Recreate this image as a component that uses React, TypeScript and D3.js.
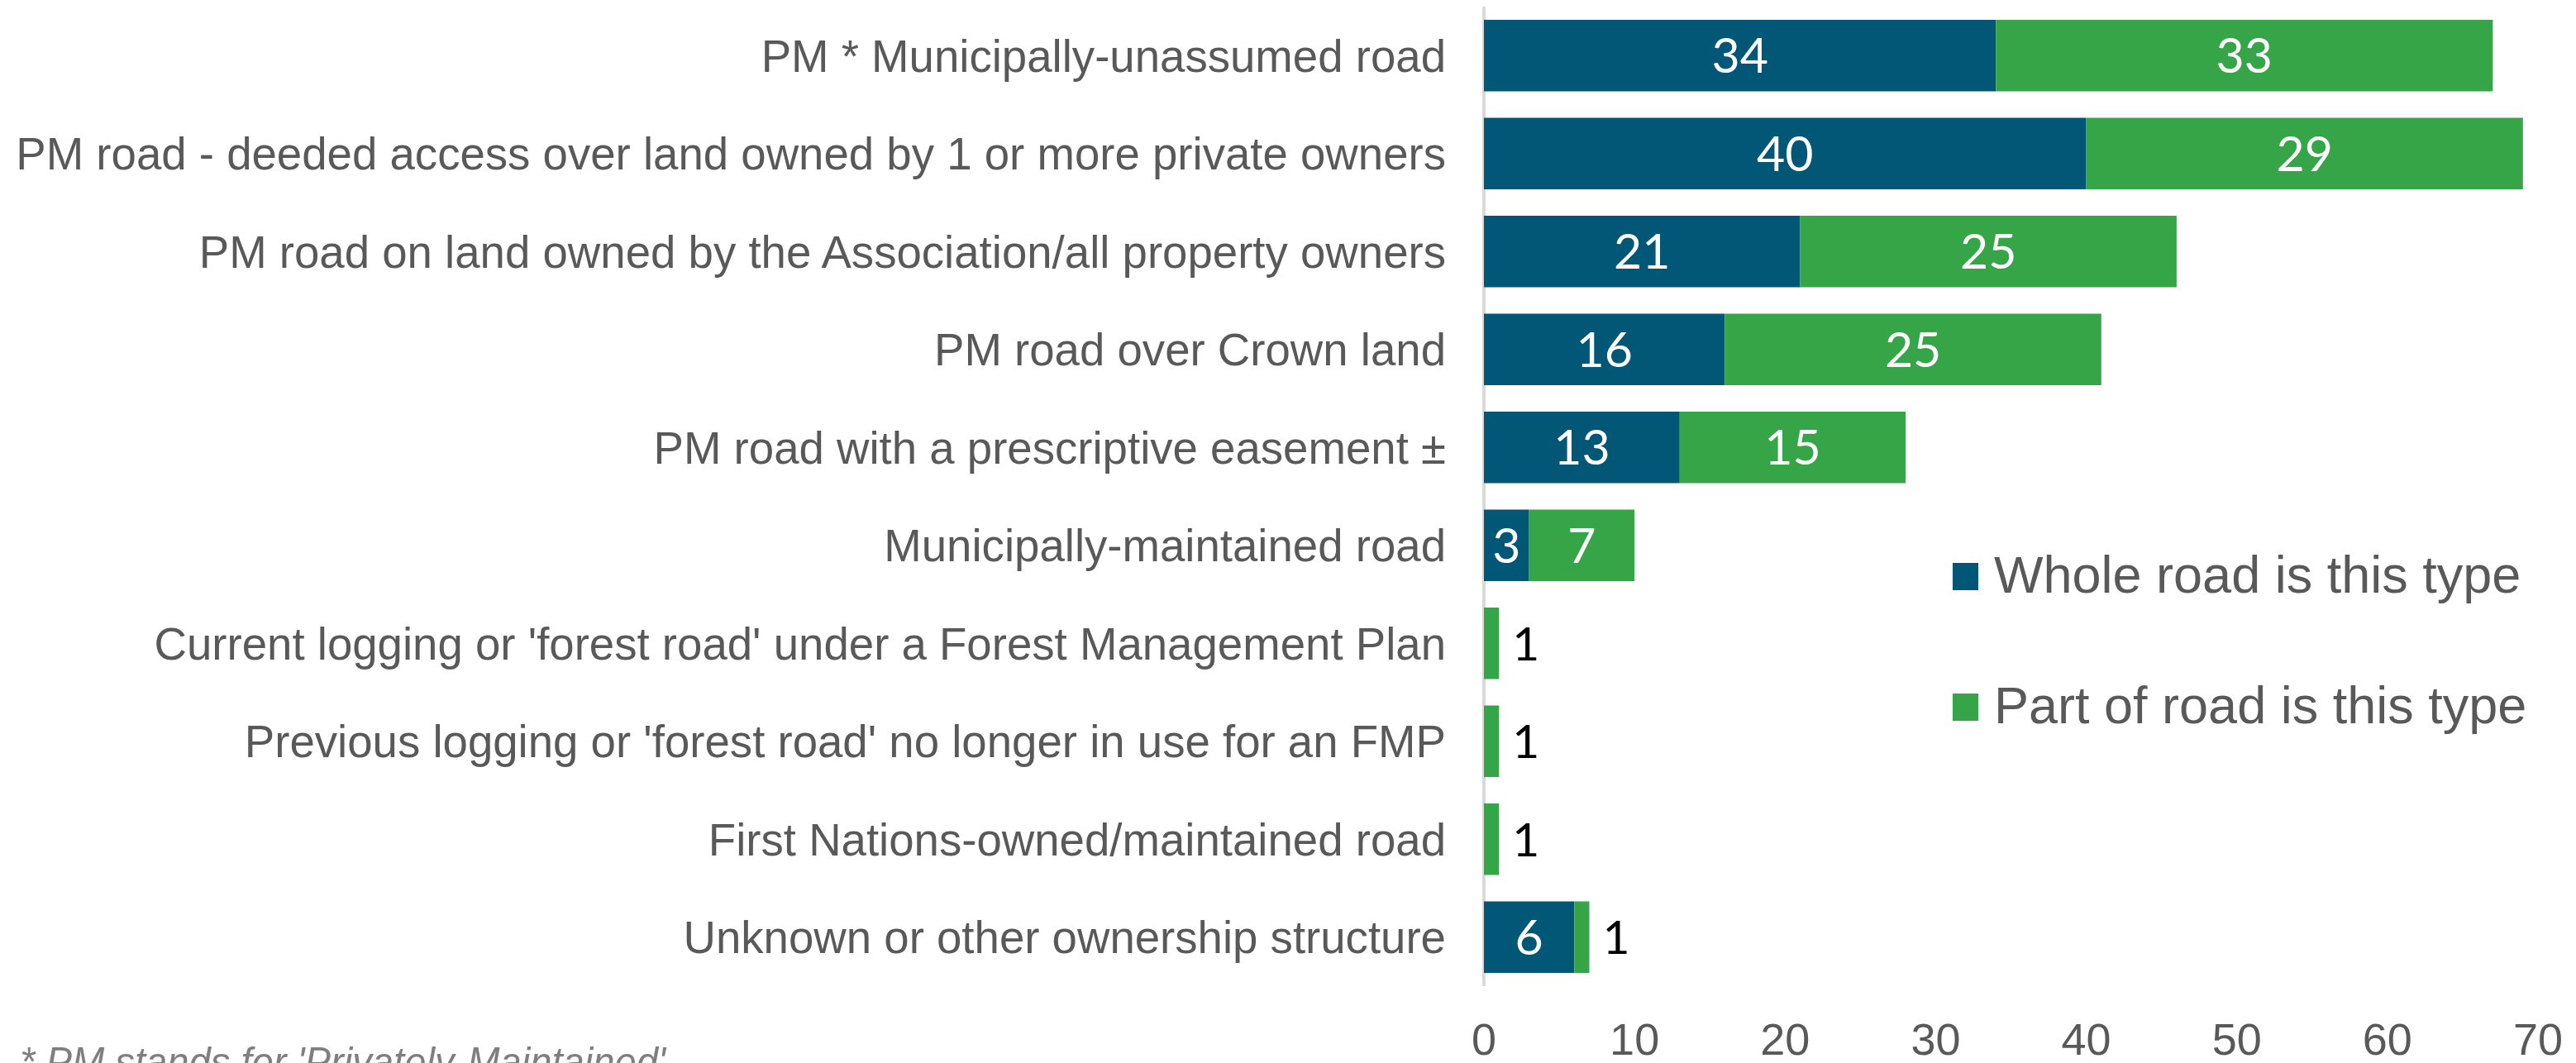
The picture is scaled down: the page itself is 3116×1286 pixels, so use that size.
import React from "react";
import * as d3 from "d3";

const categories = [
  "PM * Municipally-unassumed road",
  "PM road - deeded access over land owned by 1 or more private owners",
  "PM road on land owned by the Association/all property owners",
  "PM road over Crown land",
  "PM road with a prescriptive easement ±",
  "Municipally-maintained road",
  "Current logging or 'forest road' under a Forest Management Plan",
  "Previous logging or 'forest road' no longer in use for an FMP",
  "First Nations-owned/maintained road",
  "Unknown or other ownership structure",
];
const wholeValues = [34, 40, 21, 16, 13, 3, 0, 0, 0, 6];
const partValues = [33, 29, 25, 25, 15, 7, 1, 1, 1, 1];
const seriesNames = ["Whole road is this type", "Part of road is this type"];
const xTicks = [0, 10, 20, 30, 40, 50, 60, 70];
const footnote = "* PM stands for 'Privately-Maintained'";

const W = 3116;
const H = 1286;
const BLUE = "#025676";
const GREEN = "#35A547";
const GREY = "#595959";

export default function App() {
  const x = d3.scaleLinear().domain([0, 70]).range([1795, 3070]);
  const y = d3.scaleBand<string>().domain(categories).range([8, 1193]).paddingInner(0.27).paddingOuter(0.135);
  const bh = y.bandwidth();
  const labelFont = "'Liberation Sans', Arial, sans-serif";
  const numFont = "Lato, 'Liberation Sans', sans-serif";

  return (
    <div style={{ position: "fixed", left: 0, top: 0 }}>
      <svg width={W} height={H} style={{ display: "block", background: "#fff" }}>
        <line x1={x(0)} x2={x(0)} y1={8} y2={1193} stroke="#d9d9d9" strokeWidth={4} />
        {categories.map((c, i) => {
          const y0 = y(c)!;
          const cy = y0 + bh / 2;
          const w = wholeValues[i];
          const p = partValues[i];
          const small = p <= 1;
          return (
            <g key={c}>
              <text x={1749} y={cy} dy="0.36em" textAnchor="end" fontFamily={labelFont} fontSize={54.6} fill={GREY}>
                {c}
              </text>
              {w > 0 && <rect x={x(0)} y={y0} width={x(w) - x(0)} height={bh} fill={BLUE} />}
              {p > 0 && <rect x={x(w)} y={y0} width={x(w + p) - x(w)} height={bh} fill={GREEN} />}
              {w > 0 && (
                <text x={(x(0) + x(w)) / 2} y={cy} dy="0.36em" textAnchor="middle" fontFamily={numFont} fontSize={59} fill="#fff">
                  {w}
                </text>
              )}
              {p > 0 && !small && (
                <text x={(x(w) + x(w + p)) / 2} y={cy} dy="0.36em" textAnchor="middle" fontFamily={numFont} fontSize={59} fill="#fff">
                  {p}
                </text>
              )}
              {small && (
                <text x={x(w + p) + 16} y={cy} dy="0.36em" textAnchor="start" fontFamily={numFont} fontSize={57} fill="#000">
                  {p}
                </text>
              )}
            </g>
          );
        })}
        {xTicks.map((t) => (
          <text key={t} x={x(t)} y={1276} textAnchor="middle" fontFamily={labelFont} fontSize={54} fill={GREY}>
            {t}
          </text>
        ))}
        {seriesNames.map((s, i) => (
          <g key={s}>
            <rect x={2362} y={[681, 839][i]} width={31} height={33} fill={i === 0 ? BLUE : GREEN} />
            <text x={2412} y={[717, 875][i]} fontFamily={labelFont} fontSize={63} fill={GREY}>
              {s}
            </text>
          </g>
        ))}
        <text x={24} y={1302} fontFamily={labelFont} fontStyle="italic" fontSize={50} fill="#7f7f7f" textLength={781} lengthAdjust="spacingAndGlyphs">
          {footnote}
        </text>
      </svg>
    </div>
  );
}
